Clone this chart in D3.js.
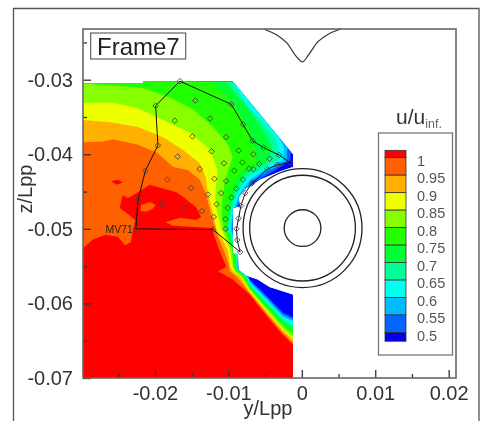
<!DOCTYPE html>
<html>
<head>
<meta charset="utf-8">
<script src="https://cdn.jsdelivr.net/npm/d3@7"></script>
<style>
html,body{margin:0;padding:0;background:#fff;overflow:hidden}
svg{display:block;filter:blur(0.45px)}
text{font-family:"Liberation Sans",Arial,sans-serif}
</style>
</head>
<body>
<svg id="graph"></svg>
<script>
// tick values
var yTicks=[-0.02,-0.01,0,0.01,0.02]
var yMinor=[-0.025,-0.015,-0.005,0.005,0.015]
var zTicks=[-0.03,-0.04,-0.05,-0.06,-0.07]
var zMinor=[-0.025,-0.035,-0.045,-0.055,-0.065]

// legend
var levels=[1,0.95,0.9,0.85,0.8,0.75,0.7,0.65,0.6,0.55,0.5]
var levelLabels=["1","0.95","0.9","0.85","0.8","0.75","0.7","0.65","0.6","0.55","0.5"]
var swatchColors=["#ff0000","#ff6000","#ffb000","#eeff00","#88ff00","#22ff00","#00ff33","#00ff99","#00ffee","#00bbff","#0066ff","#0000ee"]

// measured area outline (y/Lpp, z/Lpp)
var measured=[[-0.0298,-0.0305],[-0.0216,-0.0305],[-0.0216,-0.0302],[-0.0094,-0.0302],[-0.0012,-0.04],[-0.0012,-0.0417],[-0.003,-0.0423],[-0.0057,-0.0434],[-0.0067,-0.0441],[-0.0078,-0.0447],[-0.0086,-0.0458],[-0.0084,-0.047],[-0.0094,-0.0472],[-0.0094,-0.0532],[-0.0087,-0.0535],[-0.0086,-0.0555],[-0.0075,-0.0563],[-0.006,-0.0568],[-0.0044,-0.0578],[-0.0012,-0.0588],[-0.0012,-0.07],[-0.0298,-0.07]]

// contour lines, u/uinf above the level lies on the lower left
var c50=[[-0.0078,-0.0303],[-0.0032,-0.0361],[-0.0016,-0.0384],[-0.0015,-0.0397],[-0.0016,-0.0409],[-0.0044,-0.0426],[-0.0065,-0.0438],[-0.0072,-0.0447],[-0.0083,-0.0461],[-0.0088,-0.0474],[-0.0093,-0.0488],[-0.0094,-0.0501],[-0.0084,-0.053],[-0.0086,-0.0551],[-0.0085,-0.0555],[-0.0071,-0.0567],[-0.0071,-0.0568],[-0.0047,-0.0591],[-0.0026,-0.0612],[-0.0012,-0.0619]]
var c55=[[-0.0084,-0.0303],[-0.0043,-0.0354],[-0.0026,-0.0377],[-0.002,-0.0392],[-0.002,-0.0408],[-0.0049,-0.0425],[-0.0068,-0.0435],[-0.0075,-0.0445],[-0.0084,-0.0458],[-0.009,-0.0472],[-0.0094,-0.0485],[-0.0095,-0.0501],[-0.0086,-0.053],[-0.0087,-0.0551],[-0.0086,-0.0555],[-0.0072,-0.0566],[-0.0071,-0.057],[-0.0047,-0.0593],[-0.0026,-0.0615],[-0.0012,-0.0622]]
var c60=[[-0.009,-0.0303],[-0.0049,-0.0354],[-0.0035,-0.037],[-0.0027,-0.0385],[-0.0024,-0.0394],[-0.0026,-0.0408],[-0.0054,-0.0423],[-0.0071,-0.0434],[-0.0077,-0.0442],[-0.0086,-0.0455],[-0.0091,-0.0469],[-0.0095,-0.0485],[-0.0097,-0.0501],[-0.0087,-0.0528],[-0.0088,-0.0551],[-0.0086,-0.0555],[-0.0073,-0.0565],[-0.0071,-0.0572],[-0.0047,-0.0596],[-0.0026,-0.0618],[-0.0012,-0.0624]]
var c65=[[-0.0095,-0.0303],[-0.0073,-0.0336],[-0.0056,-0.0354],[-0.0039,-0.0374],[-0.0033,-0.0388],[-0.0033,-0.0408],[-0.006,-0.0422],[-0.0075,-0.0431],[-0.008,-0.0439],[-0.0088,-0.0453],[-0.0093,-0.0466],[-0.0097,-0.0485],[-0.0098,-0.0501],[-0.0088,-0.0528],[-0.0088,-0.0551],[-0.0087,-0.0555],[-0.0075,-0.0565],[-0.0071,-0.0574],[-0.0047,-0.0599],[-0.0026,-0.062],[-0.0012,-0.0628]]
var c70=[[-0.0103,-0.0303],[-0.0075,-0.0336],[-0.0054,-0.0365],[-0.0043,-0.0385],[-0.0041,-0.0394],[-0.0048,-0.0411],[-0.0061,-0.0418],[-0.0078,-0.0427],[-0.0083,-0.0437],[-0.0091,-0.045],[-0.0095,-0.0463],[-0.0099,-0.0484],[-0.0101,-0.0501],[-0.009,-0.0528],[-0.009,-0.0551],[-0.0088,-0.0555],[-0.0076,-0.0565],[-0.0071,-0.0576],[-0.0047,-0.0602],[-0.0026,-0.0624],[-0.0012,-0.0632]]
var c75=[[-0.0121,-0.0303],[-0.0094,-0.0331],[-0.0071,-0.0367],[-0.0064,-0.0394],[-0.0061,-0.0411],[-0.008,-0.0421],[-0.0087,-0.043],[-0.0094,-0.0443],[-0.0098,-0.0457],[-0.0102,-0.0478],[-0.0103,-0.0501],[-0.0093,-0.0528],[-0.0091,-0.0551],[-0.0088,-0.0556],[-0.0078,-0.0565],[-0.0071,-0.0578],[-0.0047,-0.0604],[-0.0026,-0.0627],[-0.0012,-0.0636]]
var c80=[[-0.0298,-0.0305],[-0.0216,-0.0311],[-0.018,-0.0324],[-0.0148,-0.034],[-0.0121,-0.0363],[-0.0102,-0.0385],[-0.0094,-0.0403],[-0.0103,-0.043],[-0.0106,-0.0443],[-0.0109,-0.0465],[-0.0109,-0.0484],[-0.0106,-0.0501],[-0.0095,-0.0528],[-0.0093,-0.0551],[-0.009,-0.0556],[-0.0079,-0.0565],[-0.0071,-0.058],[-0.0047,-0.0607],[-0.0026,-0.063],[-0.0012,-0.0642]]
var c85=[[-0.0298,-0.0331],[-0.0257,-0.0331],[-0.0224,-0.0338],[-0.0189,-0.0354],[-0.0152,-0.0371],[-0.0125,-0.0394],[-0.0115,-0.0421],[-0.0116,-0.0434],[-0.0118,-0.0457],[-0.0116,-0.0474],[-0.011,-0.0498],[-0.0098,-0.0528],[-0.0094,-0.0551],[-0.0091,-0.0557],[-0.0082,-0.0565],[-0.0071,-0.0582],[-0.0047,-0.061],[-0.0026,-0.0634],[-0.0012,-0.0646]]
var c90=[[-0.0298,-0.0354],[-0.0261,-0.0357],[-0.0224,-0.0363],[-0.0189,-0.0377],[-0.0162,-0.0394],[-0.0139,-0.0412],[-0.0131,-0.043],[-0.0128,-0.0451],[-0.0124,-0.0467],[-0.012,-0.0483],[-0.0116,-0.0501],[-0.0101,-0.0528],[-0.0097,-0.0551],[-0.0094,-0.0557],[-0.0084,-0.0564],[-0.0071,-0.0584],[-0.0047,-0.0612],[-0.0026,-0.0636],[-0.0012,-0.0648]]
var c95=[[-0.0298,-0.0384],[-0.0271,-0.0383],[-0.0257,-0.038],[-0.0224,-0.0387],[-0.0197,-0.0398],[-0.0175,-0.0417],[-0.0155,-0.0421],[-0.0139,-0.0434],[-0.0131,-0.0452],[-0.0124,-0.0479],[-0.0118,-0.0499],[-0.0114,-0.0511],[-0.0105,-0.0532],[-0.0099,-0.0551],[-0.0098,-0.0557],[-0.0088,-0.0565],[-0.0071,-0.0586],[-0.0047,-0.0615],[-0.0026,-0.0639],[-0.0012,-0.0652]]
var c100=[[-0.0298,-0.0526],[-0.0284,-0.0514],[-0.0267,-0.0508],[-0.025,-0.0511],[-0.0241,-0.0522],[-0.0233,-0.0518],[-0.023,-0.0502],[-0.0227,-0.0488],[-0.0237,-0.048],[-0.0248,-0.0472],[-0.0244,-0.0455],[-0.0237,-0.0459],[-0.0223,-0.0451],[-0.0207,-0.0441],[-0.0193,-0.0445],[-0.0171,-0.0451],[-0.0162,-0.0457],[-0.0144,-0.0471],[-0.0137,-0.0484],[-0.0144,-0.0488],[-0.0166,-0.0485],[-0.0186,-0.0491],[-0.0175,-0.0496],[-0.0121,-0.0499],[-0.0121,-0.0505],[-0.0114,-0.0524],[-0.0107,-0.0541],[-0.0103,-0.0551],[-0.0114,-0.0557],[-0.0094,-0.0568],[-0.0071,-0.0588],[-0.0047,-0.0618],[-0.0026,-0.0642],[-0.0012,-0.0655]]
var contourLines=[c50,c55,c60,c65,c70,c75,c80,c85,c90,c95,c100]
var closeCorners=[[-0.0012,-0.07],[-0.0298,-0.07],[-0.0298,-0.0302]]

// small patches inside the red and orange areas
var orangePatch=[[-0.0219,-0.0468],[-0.0207,-0.0464],[-0.0199,-0.0468],[-0.0203,-0.0473],[-0.0212,-0.0477],[-0.022,-0.0476]]
var redPatch=[[-0.026,-0.0436],[-0.025,-0.0434],[-0.0244,-0.0438],[-0.0252,-0.0441]]

// measuring points
var probeOutline=[[-0.0166,-0.0302],[-0.0096,-0.0333],[-0.008,-0.036],[-0.0067,-0.0382],[-0.0052,-0.0391],[-0.0031,-0.0401],[-0.0016,-0.0411],[-0.0033,-0.0414],[-0.0047,-0.042],[-0.0068,-0.0439],[-0.0077,-0.0452],[-0.0083,-0.0469],[-0.0086,-0.0486],[-0.0089,-0.05],[-0.0088,-0.0515],[-0.0084,-0.0531],[-0.0121,-0.0501],[-0.0226,-0.05],[-0.0223,-0.0461],[-0.0213,-0.0422],[-0.0196,-0.0388],[-0.0199,-0.0335]]
var probeInner=[[-0.0145,-0.0328],[-0.0125,-0.0352],[-0.0103,-0.0377],[-0.0086,-0.0395],[-0.0066,-0.04],[-0.0044,-0.0406],[-0.0173,-0.0355],[-0.0149,-0.0376],[-0.0123,-0.0396],[-0.0106,-0.0412],[-0.0081,-0.0411],[-0.0072,-0.0419],[-0.0066,-0.042],[-0.0058,-0.0413],[-0.0169,-0.0403],[-0.0139,-0.042],[-0.0119,-0.0433],[-0.0103,-0.0436],[-0.0092,-0.0422],[-0.0089,-0.0446],[-0.008,-0.0434],[-0.0183,-0.0434],[-0.0151,-0.0445],[-0.0128,-0.0454],[-0.011,-0.0452],[-0.0096,-0.0458],[-0.0191,-0.0467],[-0.0159,-0.0472],[-0.0136,-0.0476],[-0.0116,-0.0467],[-0.0101,-0.0472],[-0.012,-0.0484],[-0.0104,-0.0487],[-0.0104,-0.05]]

// hull section
var hullRadii=[0.0025,0.0072,0.0081]
var hullCenter=[0.0001,-0.0499]
var hullTop=[[-0.0052,-0.0232],[-0.0034,-0.024],[-0.002,-0.0251],[-0.0009,-0.0267],[0.0001,-0.0276],[0.0009,-0.0267],[0.0022,-0.0249],[0.0036,-0.0239],[0.0053,-0.0232]]

var screen={width:485,height:421}
var svg=d3.select("#graph").attr("width",screen.width).attr("height",screen.height)

var xScale=d3.scaleLinear().domain([-0.0298,0.021]).range([83,456])
var yScale=d3.scaleLinear().domain([-0.07,-0.0232]).range([378,29])
var legendScale=d3.scaleLinear().domain([0.5,1]).range([332.5,157.7])

var line=d3.line().x(function(d){return xScale(d[0])}).y(function(d){return yScale(d[1])})

// outer picture frame, it runs off the bottom
svg.append("path").attr("d","M13.5,421V8.5H479V421").attr("fill","none").attr("stroke","#555").attr("stroke-width",1.3)

svg.append("clipPath").attr("id","area").append("path").attr("d",line(measured)+"Z")

var bands=svg.append("g").attr("clip-path","url(#area)")
bands.append("path").attr("d",line(measured)+"Z").attr("fill","#0000ff")
bands.selectAll("path.band")
  .data(contourLines)
  .enter()
  .append("path")
  .attr("class","band")
  .attr("d",function(d){return line(d.concat(closeCorners))+"Z"})
  .attr("fill",function(d,i){return swatchColors[swatchColors.length-2-i]})
bands.append("path").attr("d",line(orangePatch)+"Z").attr("fill",swatchColors[1])
bands.append("path").attr("d",line(redPatch)+"Z").attr("fill",swatchColors[0])

// hull
svg.selectAll("circle.hull")
  .data(hullRadii)
  .enter()
  .append("circle")
  .attr("class","hull")
  .attr("cx",xScale(hullCenter[0]))
  .attr("cy",yScale(hullCenter[1]))
  .attr("r",function(d){return xScale(d)-xScale(0)})
  .attr("fill","none")
  .attr("stroke","#222")
  .attr("stroke-width",1.3)
svg.append("path").attr("d",line.curve(d3.curveCatmullRom)(hullTop)).attr("fill","none").attr("stroke","#333").attr("stroke-width",1.2)
line.curve(d3.curveLinear)

// measuring grid
svg.append("path").attr("d",line(probeOutline)+"Z").attr("fill","none").attr("stroke","#111").attr("stroke-width",1)
svg.selectAll("path.probe")
  .data(probeOutline.concat(probeInner))
  .enter()
  .append("path")
  .attr("class","probe")
  .attr("d",d3.symbol(d3.symbolDiamond2,20))
  .attr("transform",function(d){return "translate("+xScale(d[0])+","+yScale(d[1])+")"})
  .attr("fill","none")
  .attr("stroke","#444")
  .attr("stroke-width",0.9)
svg.append("text").attr("x",xScale(probeOutline[17][0])-3).attr("y",yScale(probeOutline[17][1])+4)
  .attr("text-anchor","end").attr("font-size",10.5).attr("fill","#222").text("MV71")

// axes
var xAxis=d3.axisBottom(xScale).tickValues(yTicks).tickSize(-8).tickSizeOuter(0).tickPadding(8).tickFormat(String)
var yAxis=d3.axisLeft(yScale).tickValues(zTicks).tickSize(-8).tickSizeOuter(0).tickPadding(10).tickFormat(String)
var gx=svg.append("g").attr("transform","translate(0,378)").call(xAxis)
var gy=svg.append("g").attr("transform","translate(83,0)").call(yAxis)
gx.append("g").call(d3.axisBottom(xScale).tickValues(yMinor).tickSize(-4).tickSizeOuter(0).tickFormat(""))
gy.append("g").call(d3.axisLeft(yScale).tickValues(zMinor).tickSize(-4).tickSizeOuter(0).tickFormat(""))
svg.selectAll(".domain").remove()
svg.selectAll(".tick line").attr("stroke","#333").attr("stroke-width",1.3)
svg.selectAll(".tick text").attr("font-size",20).attr("fill","#333").attr("font-family","Liberation Sans")

svg.append("rect").attr("x",83).attr("y",29).attr("width",373).attr("height",349)
  .attr("fill","none").attr("stroke","#666").attr("stroke-width",1.6)

svg.append("text").attr("x",268).attr("y",415).attr("text-anchor","middle").attr("font-size",20).attr("fill","#333").text("y/Lpp")
svg.append("text").attr("transform","translate(32,189) rotate(-90)").attr("text-anchor","middle").attr("font-size",20).attr("fill","#333").text("z/Lpp")

// frame label
svg.append("rect").attr("x",90.7).attr("y",33).attr("width",95).attr("height",26).attr("fill","#fff").attr("stroke","#555").attr("stroke-width",1.1)
svg.append("text").attr("x",97).attr("y",54.5).attr("font-size",24).attr("fill","#222").text("Frame7")

// legend
var legend=svg.append("g")
legend.append("rect").attr("x",378.5).attr("y",133).attr("width",74).attr("height",222).attr("fill","#fff").attr("stroke","#777").attr("stroke-width",1.3)
var legendTop=[1.021].concat(levels)
var legendBottom=levels.concat([0.475])
legend.selectAll("rect.swatch")
  .data(swatchColors)
  .enter()
  .append("rect")
  .attr("class","swatch")
  .attr("x",385)
  .attr("width",21)
  .attr("y",function(d,i){return legendScale(legendTop[i])})
  .attr("height",function(d,i){return legendScale(legendBottom[i])-legendScale(legendTop[i])})
  .attr("fill",function(d){return d})
  .attr("stroke","#333")
  .attr("stroke-width",0.8)
legend.selectAll("text.level")
  .data(levelLabels)
  .enter()
  .append("text")
  .attr("class","level")
  .attr("x",417)
  .attr("y",function(d,i){return legendScale(levels[i])+8})
  .attr("font-size",14.5)
  .attr("fill","#555")
  .text(function(d){return d})
var title=legend.append("text").attr("x",396).attr("y",124).attr("font-size",21).attr("fill","#333").text("u/u")
title.append("tspan").attr("dy",4).attr("font-size",12.5).attr("fill","#666").text("inf.")
</script>
</body>
</html>
